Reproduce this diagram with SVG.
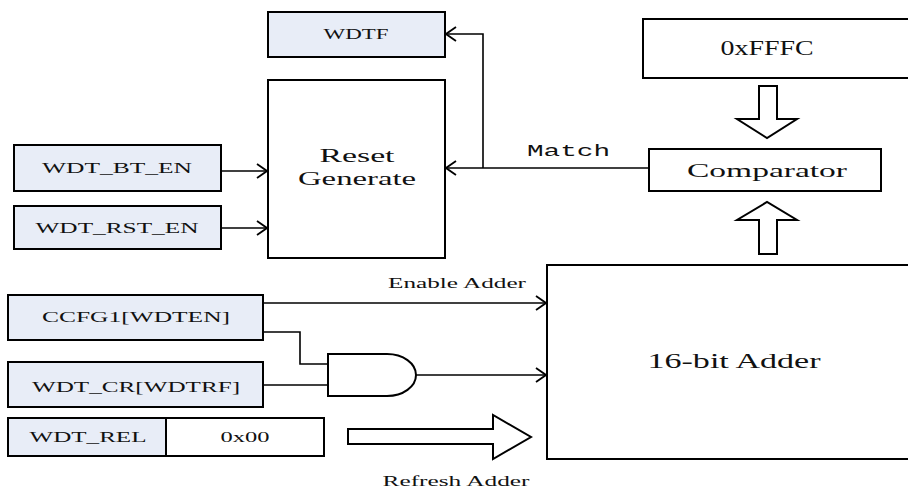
<svg xmlns="http://www.w3.org/2000/svg" width="908" height="491" viewBox="0 0 908 491">
<style>
.box{stroke:#000;stroke-width:2;fill:#fff}
.blue{fill:#e8edf7}
.t{font-family:"Liberation Serif","Times New Roman",serif;fill:#111;text-anchor:middle}
.m{font-family:"Liberation Mono","Courier New",monospace;fill:#111}
.ln{stroke:#000;stroke-width:1.6;fill:none}
.hollow{stroke:#000;stroke-width:2;fill:#fff;stroke-linejoin:miter}
</style>
<defs>
<marker id="arr" viewBox="0 0 12 16" refX="11" refY="8" markerWidth="12" markerHeight="16" markerUnits="userSpaceOnUse" orient="auto">
<path d="M1,1 L11,8 L1,15" fill="none" stroke="#000" stroke-width="1.8"/>
</marker>
</defs>
<rect width="908" height="491" fill="#fff"/>
<g id="connectors">
<path class="ln" d="M221,171 H267" marker-end="url(#arr)"/>
<path class="ln" d="M221,228 H267" marker-end="url(#arr)"/>
<path class="ln" d="M649,168 H446" marker-end="url(#arr)"/>
<path class="ln" d="M483,168 V34 H446" marker-end="url(#arr)"/>
<path class="ln" d="M263,303 H546" marker-end="url(#arr)"/>
<path class="ln" d="M263,332 H300 V364 H328"/>
<path class="ln" d="M263,385 H328"/>
<path class="ln" d="M416,375 H546" marker-end="url(#arr)"/>
<polygon class="hollow" points="759,86 777,86 777,119 797,119 767,138 737,119 759,119"/>
<polygon class="hollow" points="759,254 777,254 777,220 797,220 767,202 737,220 759,220"/>
<polygon class="hollow" points="348,429 493,429 493,415 531,437 493,459 493,444 348,444"/>
<text class="m" x="527" y="156" font-size="16" textLength="83" lengthAdjust="spacingAndGlyphs">Match</text>
<text class="t" x="457" y="288" font-size="15" textLength="138" lengthAdjust="spacingAndGlyphs">Enable Adder</text>
<text class="t" x="456" y="486" font-size="15" textLength="147" lengthAdjust="spacingAndGlyphs">Refresh Adder</text>
</g>
<g id="wdtf">
<rect class="box blue" x="268" y="12" width="177" height="45"/>
<text class="t" x="356" y="39" font-size="15" textLength="65" lengthAdjust="spacingAndGlyphs">WDTF</text>
</g>
<g id="reset-generate">
<rect class="box" x="268" y="80" width="177" height="178"/>
<text class="t" x="357" y="162" font-size="19" textLength="75" lengthAdjust="spacingAndGlyphs">Reset</text>
<text class="t" x="357" y="185" font-size="19" textLength="118" lengthAdjust="spacingAndGlyphs">Generate</text>
</g>
<g id="wdt-bt-en">
<rect class="box blue" x="14" y="145" width="207" height="46"/>
<text class="t" x="117" y="173" font-size="15" textLength="150" lengthAdjust="spacingAndGlyphs">WDT_BT_EN</text>
</g>
<g id="wdt-rst-en">
<rect class="box blue" x="14" y="206" width="207" height="43"/>
<text class="t" x="117" y="233" font-size="15" textLength="163" lengthAdjust="spacingAndGlyphs">WDT_RST_EN</text>
</g>
<g id="fffc">
<rect class="box" x="643" y="19" width="270" height="59"/>
<text class="t" x="767" y="55" font-size="21" textLength="93" lengthAdjust="spacingAndGlyphs">0xFFFC</text>
</g>
<g id="comparator">
<rect class="box" x="649" y="149" width="232" height="42"/>
<text class="t" x="767" y="177" font-size="19" textLength="160" lengthAdjust="spacingAndGlyphs">Comparator</text>
</g>
<g id="adder">
<rect class="box" x="547" y="265" width="370" height="194"/>
<text class="t" x="734" y="368" font-size="20" textLength="173" lengthAdjust="spacingAndGlyphs">16-bit Adder</text>
</g>
<g id="ccfg1">
<rect class="box blue" x="8" y="295" width="255" height="45"/>
<text class="t" x="136" y="322" font-size="15" textLength="188" lengthAdjust="spacingAndGlyphs">CCFG1[WDTEN]</text>
</g>
<g id="wdt-cr">
<rect class="box blue" x="8" y="362" width="255" height="45"/>
<text class="t" x="136" y="392" font-size="15" textLength="208" lengthAdjust="spacingAndGlyphs">WDT_CR[WDTRF]</text>
</g>
<g id="and-gate">
<path class="box" d="M328,354 H387 A29,21 0 0 1 387,396 H328 Z"/>
</g>
<g id="wdt-rel">
<rect class="box blue" x="8" y="418" width="158" height="38"/>
<text class="t" x="88" y="442" font-size="15" textLength="117" lengthAdjust="spacingAndGlyphs">WDT_REL</text>
</g>
<g id="rel-value">
<rect class="box" x="166" y="418" width="158" height="38"/>
<text class="t" x="245" y="442" font-size="15" textLength="49" lengthAdjust="spacingAndGlyphs">0x00</text>
</g>
</svg>
